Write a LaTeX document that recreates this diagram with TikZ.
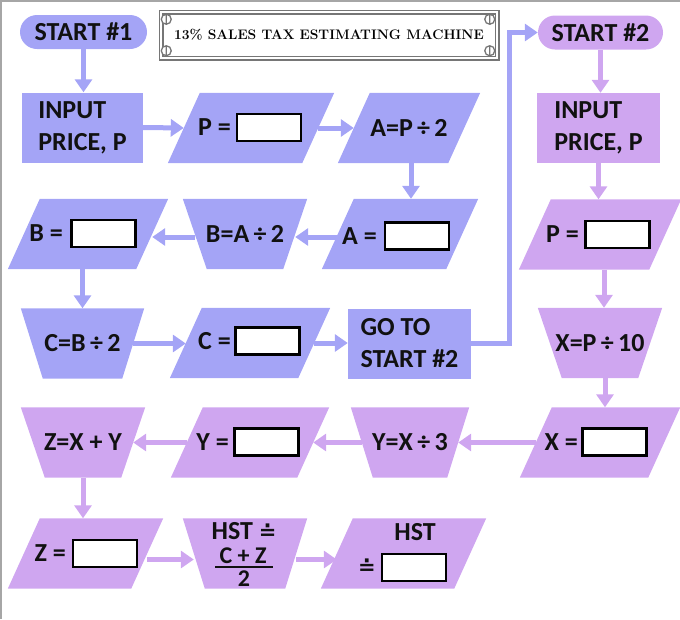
\documentclass[tikz,border=0pt]{standalone}
\usepackage{fontspec}
\setsansfont{Carlito}
\newfontfamily\symfont{DejaVu Sans}
\usetikzlibrary{arrows.meta,backgrounds,calc}
\definecolor{pblue}{RGB}{164,164,246}
\definecolor{ppurp}{RGB}{207,166,240}
\definecolor{ink}{RGB}{17,17,17}
\definecolor{framegray}{RGB}{118,118,118}
\newcommand\bodyfont{\sffamily\bfseries\fontsize{26}{32}\selectfont}
\newcommand\dotEq{{\symfont\bfseries\fontsize{21}{21}\selectfont ≐}}
\newcommand\paraShape[3]{\fill[#2] ([xshift=#3]#1.north west) -- ([xshift=#3]#1.north east) -- ([xshift=-#3]#1.south east) -- ([xshift=-#3]#1.south west) -- cycle;}
\newcommand\trapShape[3]{\fill[#2] ([xshift=-#3]#1.north west) -- ([xshift=#3]#1.north east) -- ([xshift=-#3]#1.south east) -- ([xshift=#3]#1.south west) -- cycle;}
\begin{document}
\begin{tikzpicture}[x=1pt,y=-1pt,
  shp/.style={minimum height=70pt, inner sep=0pt, font=\bodyfont, text=ink},
  rectbox/.style={shp, align=left},
  pill/.style={rounded corners=17pt, minimum height=34pt, inner sep=0pt, font=\bodyfont, text=ink},
  entry/.style={draw=black, line width=2.5pt, fill=white, minimum width=64pt, minimum height=27pt, inner sep=0pt},
  lbl/.style={font=\bodyfont, text=ink, inner sep=0pt, anchor=east},
  txt/.style={font=\bodyfont, text=ink, inner sep=0pt},
  titlebox/.style={draw=framegray, line width=1.5pt, double=white, double distance=2pt, fill=white,
     minimum width=336pt, minimum height=46pt, inner sep=0pt, font=\rmfamily\bfseries\fontsize{13.8}{14}\selectfont},
  screw/.style={draw=framegray, line width=1.3pt, fill=white},
  arr/.style={line width=5pt, -{Triangle[length=13pt,width=17pt]}},
  barr/.style={arr, draw=pblue},
  parr/.style={arr, draw=ppurp},
  edgeline/.style={draw=gray!70, line width=1.5pt}]
\useasboundingbox (0,0) rectangle (680,619);
\draw[edgeline] (1.2,619) -- (1.2,0.8) -- (680,0.8);

% row 1
\node[pill, fill=pblue, minimum width=127pt] (start1) at (83.5,32) {START \#1};
\node[titlebox] (title) at (329,35) {13\% SALES TAX ESTIMATING MACHINE};
\foreach \a/\dx/\dy in {north west/6/8, south west/6/-8, north east/-8/8, south east/-8/-8}
  \draw[screw] ([shift={(\dx,\dy)}]title.\a) circle[radius=5] ++(0,-5) -- ++(0,10);
\node[pill, fill=ppurp, minimum width=125pt] (start2) at (600.5,32.5) {START \#2};

% row 2
\node[rectbox, fill=pblue, minimum width=121pt] (input1) at (82.5,127.5) {INPUT\\PRICE, P};
\node[shp, minimum width=134pt] (pA) at (251,128) {};
\node[entry] (pAbox) at (269,127.5) {};
\node[lbl] (pAlbl) at (231,127.5) {P =};
\node[shp, minimum width=110pt] (aDiv) at (409,128) {A=P\,÷\,2};
\node[rectbox, fill=ppurp, minimum width=123pt] (input2) at (598.5,128) {INPUT\\PRICE, P};

% row 3
\node[shp, minimum width=128pt] (bEq) at (88,234) {};
\node[entry] (bEqbox) at (103.5,233.5) {};
\node[lbl] (bEqlbl) at (63,233.5) {B =};
\node[shp, minimum width=100pt] (bDiv) at (245,234) {B=A\,÷\,2};
\node[shp, minimum width=124pt] (aEq) at (400,234) {};
\node[entry] (aEqbox) at (417,236) {};
\node[lbl] (aEqlbl) at (377,236) {A =};
\node[shp, minimum width=130pt] (pB) at (600,234.5) {};
\node[entry] (pBbox) at (617.5,234.5) {};
\node[lbl] (pBlbl) at (579,234.5) {P =};

% row 4
\node[shp, minimum width=101pt] (cDiv) at (82.5,343.5) {C=B\,÷\,2};
\node[shp, minimum width=128pt] (cEq) at (250,343) {};
\node[entry] (cEqbox) at (267.5,341) {};
\node[lbl] (cEqlbl) at (231,341) {C =};
\node[rectbox, fill=pblue, minimum width=123pt] (goto) at (409.5,343.5) {GO TO\\START \#2};
\node[shp, minimum width=100pt] (xDiv) at (600,343) {X=P\,÷\,10};

% row 5
\node[shp, minimum width=100pt] (zDiv) at (83,442.5) {Z=X + Y};
\node[shp, minimum width=126pt] (yEq) at (250,442.5) {};
\node[entry] (yEqbox) at (266.5,442) {};
\node[lbl] (yEqlbl) at (229,442) {Y =};
\node[shp, minimum width=96pt] (yDiv) at (410,442.5) {Y=X\,÷\,3};
\node[shp, minimum width=128pt] (xEq) at (600,442.5) {};
\node[entry] (xEqbox) at (614.5,442) {};
\node[lbl] (xEqlbl) at (578,442) {X =};

% row 6
\node[shp, minimum width=123pt] (zEq) at (85.5,553.5) {};
\node[entry] (zEqbox) at (105,553.5) {};
\node[lbl] (zEqlbl) at (66,553.5) {Z =};
\node[shp, minimum width=102pt] (hst) at (245,553.5) {};
\node[txt] (hstA) at (244,531) {HST \dotEq};
\node[txt, font=\sffamily\bfseries\fontsize{24}{24}\selectfont] (hstNum) at (243,556) {C + Z};
\node[fill=ink, minimum width=58pt, minimum height=2.5pt, inner sep=0pt] (hstBar) at (244,567) {};
\node[txt, font=\sffamily\bfseries\fontsize{24}{24}\selectfont] (hstDen) at (244,579) {2};
\node[shp, minimum width=133pt] (hstEq) at (403.5,553.5) {};
\node[txt] (hstEqTxt) at (415,532) {HST};
\node[txt] (hstEqSym) at (367,567) {\dotEq};
\node[entry] (hstEqbox) at (414,567.5) {};

% shapes behind
\begin{scope}[on background layer]
\paraShape{pA}{pblue}{16pt}
\paraShape{aDiv}{pblue}{16pt}
\paraShape{bEq}{pblue}{16pt}
\trapShape{bDiv}{pblue}{12pt}
\paraShape{aEq}{pblue}{16pt}
\trapShape{cDiv}{pblue}{11pt}
\paraShape{cEq}{pblue}{16pt}
\paraShape{pB}{ppurp}{16pt}
\trapShape{xDiv}{ppurp}{12pt}
\paraShape{xEq}{ppurp}{16pt}
\trapShape{yDiv}{ppurp}{11pt}
\paraShape{yEq}{ppurp}{16pt}
\trapShape{zDiv}{ppurp}{12pt}
\paraShape{zEq}{ppurp}{16pt}
\trapShape{hst}{ppurp}{11pt}
\paraShape{hstEq}{ppurp}{16pt}
\end{scope}

% blue connectors
\draw[barr] (start1.south) -- (start1.south |- input1.north);
\draw[barr] (input1.east) -- (pA.west);
\draw[barr] (pA.east) -- (aDiv.west);
\draw[barr] ([xshift=2pt]aDiv.south) -- ([xshift=2pt]aDiv.south |- aEq.north);
\draw[barr] ([yshift=-3pt]aEq.west) -- ([yshift=-3pt]bDiv.east);
\draw[barr] ([yshift=-3pt]bDiv.west) -- ([yshift=-3pt]bEq.east);
\draw[barr] (bEq.south -| cDiv.north) -- (cDiv.north);
\draw[barr] (cDiv.east) -- (cDiv.east -| cEq.west);
\draw[barr] (cEq.east) -- (cEq.east -| goto.west);
\coordinate (turn) at (509,0);
\draw[barr] (goto.east) -- (goto.east -| turn) |- (start2.west);

% purple connectors
\draw[parr] (start2.south) -- (start2.south |- input2.north);
\draw[parr] (input2.south) -- (input2.south |- pB.north);
\draw[parr] ([xshift=4pt]pB.south) -- ([xshift=4pt]xDiv.north);
\draw[parr] ([xshift=5pt]xDiv.south) -- ([xshift=5pt]xDiv.south |- xEq.north);
\draw[parr] (xEq.west) -- (xEq.west -| yDiv.east);
\draw[parr] (yDiv.west) -- (yDiv.west -| yEq.east);
\draw[parr] (yEq.west) -- (yEq.west -| zDiv.east);
\draw[parr] (zDiv.south) -- (zDiv.south |- zEq.north);
\draw[parr] ([yshift=-6pt]zEq.east) -- ([yshift=-6pt]hst.west);
\draw[parr] ([yshift=-6pt]hst.east) -- ([yshift=-6pt]hstEq.west);
\end{tikzpicture}
\end{document}
